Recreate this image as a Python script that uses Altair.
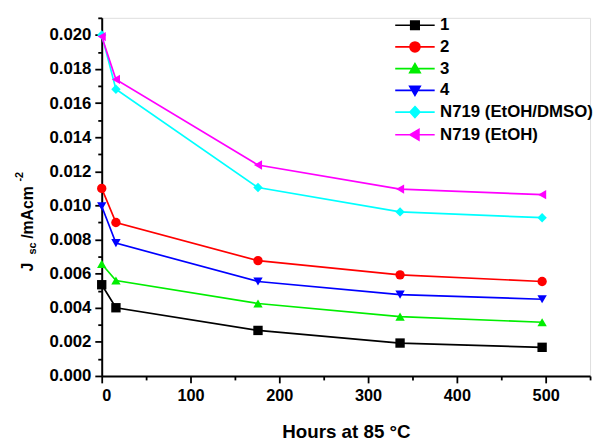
import altair as alt
import pandas as pd

series = ["1", "2", "3", "4", "N719 (EtOH/DMSO)", "N719 (EtOH)"]
colors = ["#000000", "#ff0000", "#00ee00", "#0000ff", "#00ffff", "#ff00ff"]
shapes = ["square", "circle", "triangle-up", "triangle-down", "diamond", "triangle-left"]

hours = [0, 16, 176, 336, 496]
s1 = [0.00535, 0.0040, 0.00267, 0.00193, 0.00168]
s2 = [0.0110, 0.0090, 0.00676, 0.00593, 0.00554]
s3 = [0.00657, 0.0056, 0.00425, 0.00348, 0.00315]
s4 = [0.00995, 0.00779, 0.00554, 0.00477, 0.0045]
s5 = [0.0200, 0.01681, 0.01105, 0.00962, 0.00928]
s6 = [0.0199, 0.01739, 0.01237, 0.01096, 0.01063]
all_values = [s1, s2, s3, s4, s5, s6]

x_major = [0, 100, 200, 300, 400, 500]
x_minor = [50, 150, 250, 350, 450, 550]
y_major = [0.000, 0.002, 0.004, 0.006, 0.008, 0.010, 0.012, 0.014, 0.016, 0.018, 0.020]
y_minor = [0.001, 0.003, 0.005, 0.007, 0.009, 0.011, 0.013, 0.015, 0.017, 0.019, 0.021]

x_title = "Hours at 85 °C"
y_title_parts = ["J", "sc", "/mAcm", "-2"]

# legend symbols: a short line through the marker (unit = 5 px)
line_seg = "M-4,0H4"
legend_paths = [
    line_seg + "M-0.85,-0.85H0.85V0.85H-0.85Z",
    line_seg + "M-1,0A1,1 0 1,0 1,0A1,1 0 1,0 -1,0Z",
    line_seg + "M0,-1L1.05,0.8H-1.05Z",
    line_seg + "M0,1L1.05,-0.8H-1.05Z",
    line_seg + "M0,-1.1L1,0L0,1.1L-1,0Z",
    line_seg + "M-1,0L0.8,-1.05V1.05Z",
]

rows = []
for name, vals in zip(series, all_values):
    for h, v in zip(hours, vals):
        rows.append({"hours": h, "jsc": v, "series": name})
df = pd.DataFrame(rows)

FONT = "Liberation Sans"
W, H = 495, 363

xs = alt.Scale(domain=[0, 550], nice=False, zero=False)
ys = alt.Scale(domain=[0, 0.021], nice=False, zero=False)
cs = alt.Scale(domain=series, range=colors)

axis_common = dict(
    domainColor="black", domainWidth=2, tickColor="black", tickWidth=1.8,
    labelFont=FONT, labelFontWeight="bold", labelColor="black",
    grid=False,
)

x_axis = alt.Axis(values=x_major, format="d", tickSize=7, labelPadding=5, orient="bottom",
                  labelFontSize=16.5,
                  title=x_title, titleFont=FONT, titleFontSize=19, titleFontWeight="bold",
                  titleColor="black", titlePadding=19, **axis_common)
y_axis = alt.Axis(values=y_major, format=".3f", tickSize=7, labelPadding=4, orient="left",
                  labelFontSize=17, title=None, **axis_common)

base = alt.Chart(df)

lines = base.mark_line(strokeWidth=1.7).encode(
    x=alt.X("hours:Q", scale=xs, axis=x_axis),
    y=alt.Y("jsc:Q", scale=ys, axis=y_axis),
    color=alt.Color("series:N", scale=cs, legend=None),
    detail="series:N",
)

points = base.mark_point(filled=True, size=90, opacity=1).encode(
    x=alt.X("hours:Q", scale=xs, axis=None),
    y=alt.Y("jsc:Q", scale=ys, axis=None),
    color=alt.Color("series:N", scale=cs, legend=None),
    shape=alt.Shape("series:N", scale=alt.Scale(domain=series, range=shapes), legend=None),
)

minor = base.mark_point(opacity=0).encode(
    x=alt.X("hours:Q", scale=xs, axis=alt.Axis(values=x_minor, tickSize=4, labels=False,
                                                 domain=False, title=None, orient="bottom",
                                                 tickColor="black", tickWidth=1.8, grid=False)),
    y=alt.Y("jsc:Q", scale=ys, axis=alt.Axis(values=y_minor, tickSize=4, labels=False,
                                               domain=False, title=None, orient="left",
                                               tickColor="black", tickWidth=1.8, grid=False)),
)

legend_cfg = alt.Legend(title=None, orient="none", legendX=309, legendY=-1,
                        symbolSize=100, symbolStrokeWidth=1.7, symbolOpacity=1,
                        labelFont=FONT, labelFontSize=17, labelFontWeight="bold",
                        labelColor="black", labelOffset=17, rowPadding=4, padding=0)

legend_layer = base.transform_filter("false").mark_point(filled=True, strokeWidth=1.7).encode(
    shape=alt.Shape("series:N", scale=alt.Scale(domain=series, range=legend_paths),
                    legend=legend_cfg),
    fill=alt.Fill("series:N", scale=alt.Scale(domain=series, range=colors), legend=legend_cfg),
    stroke=alt.Stroke("series:N", scale=alt.Scale(domain=series, range=colors), legend=legend_cfg),
)

one = alt.Data(values=[{"k": 1}])
title_specs = [
    (y_title_parts[0], 16, -70, 257),
    (y_title_parts[1], 11, -67, 240),
    (y_title_parts[2], 16, -70, 224),
    (y_title_parts[3], 11, -80, 166),
]
title_layers = []
for txt, fs, xv, yv in title_specs:
    title_layers.append(
        alt.Chart(one).mark_text(angle=270, align="left", baseline="alphabetic", font=FONT,
                                 fontWeight="bold", fontSize=fs, color="black").encode(
            x=alt.value(xv), y=alt.value(yv), text=alt.value(txt))
    )

chart = alt.layer(lines, minor, points, legend_layer, *title_layers).resolve_scale(
    shape="independent", fill="independent", stroke="independent"
).resolve_axis(x="independent", y="independent").properties(
    width=W, height=H,
    autosize=alt.AutoSizeParams(type="none"),
    padding={"left": 95, "top": 7, "right": 5, "bottom": 67},
).configure_view(stroke=None).configure(background="white")

chart.save("out.html", embed_options={"renderer": "svg", "actions": False})
